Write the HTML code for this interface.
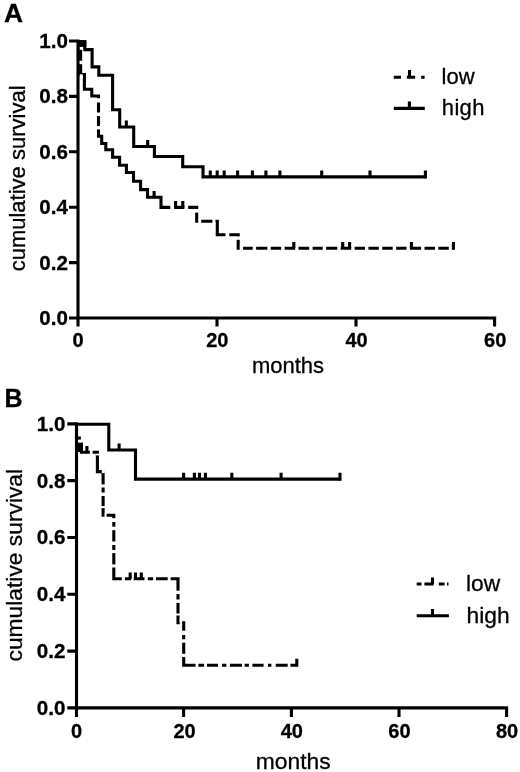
<!DOCTYPE html>
<html><head><meta charset="utf-8"><style>
html,body{margin:0;padding:0;background:#fff;}
svg{display:block;will-change:transform;}
text{font-family:"Liberation Sans",sans-serif;fill:#000;stroke:#000;stroke-width:0.3px;}
.b{font-weight:bold;}
</style></head><body>
<svg width="520" height="772" viewBox="0 0 520 772">
<defs><mask id="mA" maskUnits="userSpaceOnUse" x="0" y="0" width="520" height="772"><rect x="0" y="0" width="520" height="772" fill="#fff"/><rect x="79.6" y="46.8" width="3.5" height="3.0" fill="#000"/><rect x="78.8" y="60.8" width="3.6" height="3.4" fill="#000"/><rect x="79.6" y="74.3" width="3.2" height="3.7" fill="#000"/><rect x="96.0" y="98.2" width="5.0" height="4.3" fill="#000"/><rect x="96.0" y="112.5" width="5.0" height="3.6" fill="#000"/><rect x="96.0" y="126.1" width="5.0" height="3.3" fill="#000"/><rect x="170.3" y="204.9" width="3.9" height="5.0" fill="#000"/><rect x="184.4" y="204.9" width="3.8" height="5.0" fill="#000"/><rect x="194.2" y="209.0" width="5.0" height="3.6" fill="#000"/><rect x="198.3" y="218.8" width="2.9" height="5.0" fill="#000"/><rect x="212.4" y="218.8" width="3.1" height="5.0" fill="#000"/><rect x="225.5" y="232.3" width="3.8" height="5.0" fill="#000"/><rect x="235.7" y="236.4" width="5.0" height="3.4" fill="#000"/><rect x="239.7" y="245.8" width="3.4" height="5.0" fill="#000"/><rect x="252.7" y="245.8" width="3.4" height="5.0" fill="#000"/><rect x="267.3" y="245.8" width="3.4" height="5.0" fill="#000"/><rect x="281.2" y="245.8" width="3.4" height="5.0" fill="#000"/><rect x="295.1" y="245.8" width="3.4" height="5.0" fill="#000"/><rect x="309.2" y="245.8" width="3.4" height="5.0" fill="#000"/><rect x="322.7" y="245.8" width="3.4" height="5.0" fill="#000"/><rect x="337.3" y="245.8" width="3.4" height="5.0" fill="#000"/><rect x="351.2" y="245.8" width="3.4" height="5.0" fill="#000"/><rect x="365.0" y="245.8" width="3.4" height="5.0" fill="#000"/><rect x="378.8" y="245.8" width="3.4" height="5.0" fill="#000"/><rect x="392.7" y="245.8" width="3.4" height="5.0" fill="#000"/><rect x="406.5" y="245.8" width="3.4" height="5.0" fill="#000"/><rect x="421.1" y="245.8" width="3.4" height="5.0" fill="#000"/><rect x="435.0" y="245.8" width="3.4" height="5.0" fill="#000"/><rect x="448.8" y="245.8" width="3.4" height="5.0" fill="#000"/></mask><mask id="mB" maskUnits="userSpaceOnUse" x="0" y="0" width="520" height="772"><rect x="0" y="0" width="520" height="772" fill="#fff"/><rect x="77.9" y="439.6" width="3.1" height="3.0" fill="#000"/><rect x="89.9" y="449.8" width="2.7" height="5.0" fill="#000"/><rect x="95.8" y="453.7" width="3.3" height="1.7" fill="#000"/><rect x="101.8" y="469.8" width="3.1" height="3.3" fill="#000"/><rect x="100.6" y="484.4" width="5.0" height="3.1" fill="#000"/><rect x="100.6" y="492.5" width="5.0" height="3.5" fill="#000"/><rect x="100.6" y="506.1" width="5.0" height="2.0" fill="#000"/><rect x="104.5" y="513.0" width="2.1" height="4.5" fill="#000"/><rect x="111.3" y="518.2" width="5.0" height="3.8" fill="#000"/><rect x="111.3" y="526.7" width="5.0" height="3.5" fill="#000"/><rect x="111.3" y="541.5" width="5.0" height="3.5" fill="#000"/><rect x="111.3" y="550.0" width="5.0" height="3.1" fill="#000"/><rect x="111.3" y="564.4" width="5.0" height="3.1" fill="#000"/><rect x="121.8" y="576.3" width="3.1" height="5.0" fill="#000"/><rect x="131.1" y="576.3" width="2.7" height="5.0" fill="#000"/><rect x="144.5" y="576.3" width="3.3" height="5.0" fill="#000"/><rect x="153.1" y="576.3" width="2.9" height="5.0" fill="#000"/><rect x="167.7" y="576.3" width="2.9" height="5.0" fill="#000"/><rect x="175.5" y="590.7" width="5.0" height="3.4" fill="#000"/><rect x="175.5" y="599.5" width="5.0" height="3.4" fill="#000"/><rect x="175.5" y="613.5" width="5.0" height="2.0" fill="#000"/><rect x="179.7" y="620.0" width="2.4" height="6.0" fill="#000"/><rect x="181.2" y="630.7" width="5.0" height="4.3" fill="#000"/><rect x="181.2" y="639.3" width="5.0" height="3.4" fill="#000"/><rect x="181.2" y="653.8" width="5.0" height="3.3" fill="#000"/><rect x="195.5" y="662.7" width="2.9" height="5.0" fill="#000"/><rect x="204.1" y="662.7" width="2.9" height="5.0" fill="#000"/><rect x="218.0" y="662.7" width="4.1" height="5.0" fill="#000"/><rect x="226.4" y="662.7" width="3.5" height="5.0" fill="#000"/><rect x="242.0" y="662.7" width="2.6" height="5.0" fill="#000"/><rect x="248.9" y="662.7" width="3.5" height="5.0" fill="#000"/><rect x="263.6" y="662.7" width="4.4" height="5.0" fill="#000"/><rect x="271.4" y="662.7" width="4.3" height="5.0" fill="#000"/><rect x="287.7" y="662.7" width="2.7" height="5.0" fill="#000"/></mask></defs>
<rect width="520" height="772" fill="#fff"/>
<g fill="none" stroke="#000" stroke-width="3.1" stroke-linejoin="miter" stroke-linecap="butt">
<path d="M78,39.5V326.5 M69,41H78 M69,96.4H78 M69,151.8H78 M69,207.2H78 M69,262.6H78 M69,318H496.2 M217,318V326.5 M356,318V326.5 M494.6,318V326.5"/><rect x="78" y="40" width="8.3" height="6.8" fill="#000" stroke="none"/>
<path d="M78,42.3H84.8V49.6H92.1V66.9H98.8V75.3H112.6V109.8H119.7V127H133.7V146.5H154.4V156.5H182.7V166.7H203V176.9H425.4"/>
<path d="M126.3,127V120.6M147.7,146.5V140.1M210.3,176.9V170.5M217.2,176.9V170.5M224.2,176.9V170.5M237.6,176.9V170.5M252.4,176.9V170.5M265.9,176.9V170.5M279.9,176.9V170.5M321.7,176.9V170.5M370,176.9V170.5M425.4,178.45V170.5"/>
<g mask="url(#mA)"><path d="M78,42.3H80.6V74.6H84.4V89.3H91.8V96H98.5V136.2H101.7V143.5H105.8V149.8H112.6V157.2H119.6V165.2H126.4V172.5H133.5V181.2H140.6V189.6H147.5V197.3H161V207.4H196.7V221.3H217.3V234.8H238.2V248.3H453.4"/></g>
<path d="M154.1,197.3V190.9M175.6,207.4V201.0M182.8,207.4V201.0M293.8,248.3V241.9M342.7,248.3V241.9M349.6,248.3V241.9M411.4,248.3V241.9M453.4,249.85V241.9"/>
<path d="M393.8,77.2H401 M406.8,77.2H415.2 M421.2,77.2H424.6 M409.5,77.2V69.9 M393.8,108.4H424.8 M409.4,108.4V101.6"/>
<path d="M76.5,422.2V717 M67.3,423.9H76.5 M67.3,480.6H76.5 M67.3,537.5H76.5 M67.3,594.3H76.5 M67.3,651.1H76.5 M67.3,707.9H508.1 M183.6,707.9V717 M291.4,707.9V717 M399,707.9V717 M506.6,707.9V717"/>
<path d="M76.5,424.3H108.8V450H135.5V479.1H340"/>
<path d="M119.1,450V443.6M183.6,479.1V472.7M194.4,479.1V472.7M199.5,479.1V472.7M205.4,479.1V472.7M231.8,479.1V472.7M281.1,479.1V472.7M340,480.65V472.7"/>
<g mask="url(#mB)"><path d="M76.5,424.3V438H79.3V444H81.4V452.3H97.4V471.6H103.1V515.2H113.8V578.8H178V622.8H183.7V665.2H296.8"/></g><rect x="77" y="444" width="5.9" height="8" fill="#000" stroke="none"/>
<path d="M86.9,452.3V445.9M130.2,578.8V572.4M135.5,578.8V572.4M141.3,578.8V572.4M296.8,666.75V658.8"/>
<path d="M416.7,584H421.5 M424.4,584H433.6 M438.8,584H444.6 M447,584H448.5 M432.5,584V577.4 M416.7,615.7H448.9 M432.5,615.7V609.1"/>
</g>
<g>
<text class="b" transform="translate(4.1,21.8) scale(1.05,1)" font-size="25">A</text>
<g class="b" font-size="20" text-anchor="end">
<text transform="translate(68.0,48.0) scale(1.03,1)">1.0</text><text transform="translate(68.0,103.4) scale(1.03,1)">0.8</text><text transform="translate(68.0,158.8) scale(1.03,1)">0.6</text>
<text transform="translate(68.0,214.2) scale(1.03,1)">0.4</text><text transform="translate(68.0,269.6) scale(1.03,1)">0.2</text><text transform="translate(68.0,325.0) scale(1.03,1)">0.0</text>
</g>
<g class="b" font-size="20" text-anchor="middle">
<text x="78" y="347">0</text><text x="217.3" y="347">20</text><text x="356.5" y="347">40</text><text x="495.2" y="347">60</text>
</g>
<text x="288" y="372.8" font-size="22" text-anchor="middle">months</text>
<text transform="translate(25.2,178.4) rotate(-90)" font-size="22" text-anchor="middle">cumulative survival</text>
<text x="441.6" y="83.5" font-size="22">low</text>
<text x="441.8" y="115" font-size="22" letter-spacing="0.35">high</text>

<text class="b" x="4.4" y="406.9" font-size="25">B</text>
<g class="b" font-size="20" text-anchor="end">
<text transform="translate(65.5,430.6) scale(1.03,1)">1.0</text><text transform="translate(65.5,487.5) scale(1.03,1)">0.8</text><text transform="translate(65.5,544.4) scale(1.03,1)">0.6</text>
<text transform="translate(65.5,601.2) scale(1.03,1)">0.4</text><text transform="translate(65.5,658.0) scale(1.03,1)">0.2</text><text transform="translate(65.5,714.8) scale(1.03,1)">0.0</text>
</g>
<g class="b" font-size="20" text-anchor="middle">
<text x="76.6" y="737.7">0</text><text x="184.5" y="737.7">20</text><text x="291.8" y="737.7">40</text><text x="399.4" y="737.7">60</text><text x="507" y="737.7">80</text>
</g>
<text x="293.2" y="768.6" font-size="22.8" text-anchor="middle">months</text>
<text transform="translate(21.8,565.2) rotate(-90)" font-size="22.8" text-anchor="middle">cumulative survival</text>
<text x="466" y="591.4" font-size="22.8">low</text>
<text x="466.5" y="623" font-size="22.8">high</text>
</g>
</svg>
</body></html>
